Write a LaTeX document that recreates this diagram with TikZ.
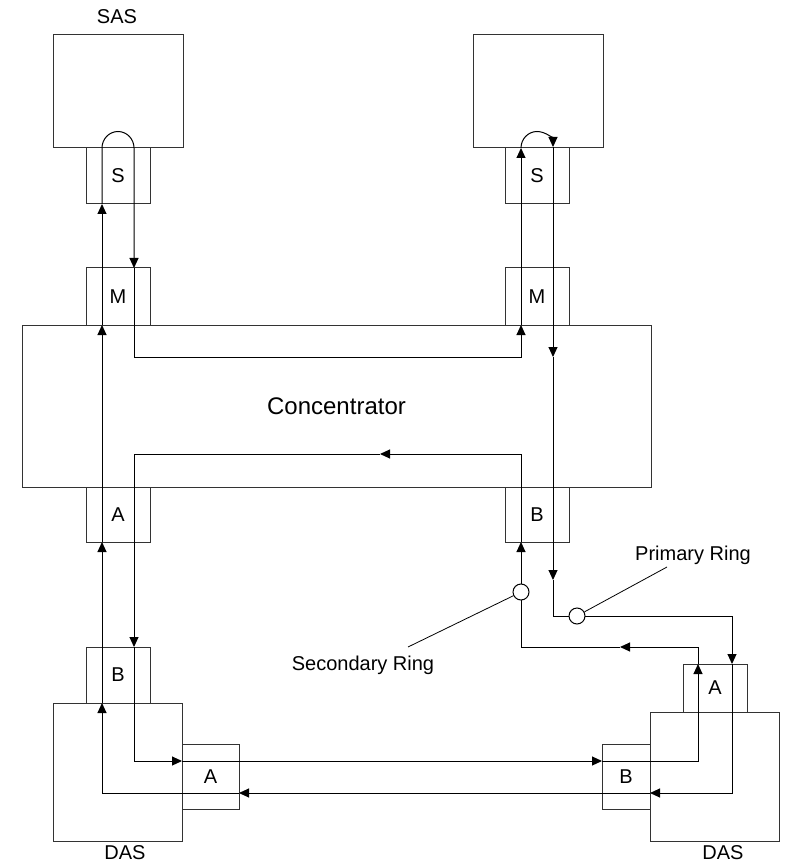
\documentclass[tikz,border=0pt]{standalone}
\usepackage{fontspec}
\setmainfont{Liberation Sans}
\usetikzlibrary{arrows.meta}
\begin{document}
\begin{tikzpicture}[x=1pt,y=-1pt,
  box/.style={draw=black!80, line width=1pt, inner sep=0pt, font=\fontsize{20}{24}\selectfont},
  wire/.style={draw=black, line width=1pt},
  arr/.style={wire, -{Triangle[length=10pt,width=9pt]}},
  lead/.style={draw=black, line width=0.8pt},
  lbl/.style={font=\fontsize{20}{24}\selectfont, inner sep=0pt},
  ring/.style={circle, draw=black, fill=white, line width=1pt, minimum size=16pt, inner sep=0pt}]
\useasboundingbox (0,0) rectangle (785,866);
% boxes
\node[box, minimum width=130pt, minimum height=113pt] (sas) at (118,91.5) {};
\node[box, minimum width=64pt, minimum height=56pt] (sasS) at (118,176) {S};
\node[box, minimum width=64pt, minimum height=57pt] (sasM) at (118,296.5) {M};
\node[box, minimum width=629pt, minimum height=162pt, font=\fontsize{24}{28}\selectfont] (conc) at (336.5,406) {Concentrator};
\node[box, minimum width=64pt, minimum height=55pt] (concA) at (118,514.5) {A};
\node[box, minimum width=64pt, minimum height=56pt] (dasB) at (118,675) {B};
\node[box, minimum width=129pt, minimum height=138pt] (das) at (117.5,772) {};
\node[box, minimum width=57pt, minimum height=65pt] (dasA) at (210.5,776.5) {A};
\node[box, minimum width=130pt, minimum height=113pt] (sas2) at (538,91.5) {};
\node[box, minimum width=64pt, minimum height=56pt] (sas2S) at (537,176) {S};
\node[box, minimum width=64pt, minimum height=57pt] (sas2M) at (537,296.5) {M};
\node[box, minimum width=64pt, minimum height=55pt] (concB) at (537,514.5) {B};
\node[box, minimum width=64pt, minimum height=48pt] (das2A) at (715,688) {A};
\node[box, minimum width=129pt, minimum height=129pt] (das2) at (714.5,776.5) {};
\node[box, minimum width=48pt, minimum height=65pt] (das2B) at (626,776.5) {B};
% labels
\node[lbl] (sasl) at (117,17) {SAS};
\node[lbl] (dasl1) at (125,853) {DAS};
\node[lbl] (dasl2) at (723,853) {DAS};
\node[lbl] (secl) at (363,665) {Secondary Ring};
\node[lbl] (pril) at (693,555) {Primary Ring};
% primary loop
\draw[arr] (102,204) -- (102,148) .. controls (102,138.9) and (109.2,131.5) .. (118,131.5) .. controls (126.8,131.5) and (134,138.9) .. (134,148) -- (134,268);
\draw[arr] (134,268) -- (134,357) -- (521,357) -- (521,325);
\draw[arr] (521,325) -- (521,148);
\draw[arr] (521,148) .. controls (521,138.9) and (528.2,131.5) .. (537,131.5) .. controls (545.8,131.5) and (553,138.9) .. (553,147);
\draw[arr] (553,147) -- (553,357);
\draw[arr] (553,357) -- (553,580);
\draw[arr] (553,580) -- (553,616) -- (732,616) -- (732,664);
\draw[arr] (732,664) -- (732,793) -- (650,793);
\draw[arr] (650,793) -- (239,793);
\draw[arr] (239,793) -- (102,793) -- (102,703);
\draw[arr] (102,703) -- (102,542);
\draw[arr] (102,542) -- (102,325);
\draw[arr] (102,325) -- (102,204);
% secondary loop
\draw[arr] (134,647) -- (134,761) -- (182,761);
\draw[arr] (182,761) -- (602,761);
\draw[arr] (602,761) -- (698,761) -- (698,664);
\draw[arr] (698,664) -- (698,647) -- (620,647);
\draw[arr] (620,647) -- (521,647) -- (521,542);
\draw[arr] (521,542) -- (521,454) -- (380,454);
\draw[arr] (380,454) -- (134,454) -- (134,647);
% rings and leaders
\node[ring] (sec) at (521,592) {};
\node[ring] (pri) at (577,616) {};
\coordinate (secend) at (408,647);
\coordinate (priend) at (667,567);
\draw[lead] (sec.206) -- (secend);
\draw[lead] (pri.29) -- (priend);
\end{tikzpicture}
\end{document}
